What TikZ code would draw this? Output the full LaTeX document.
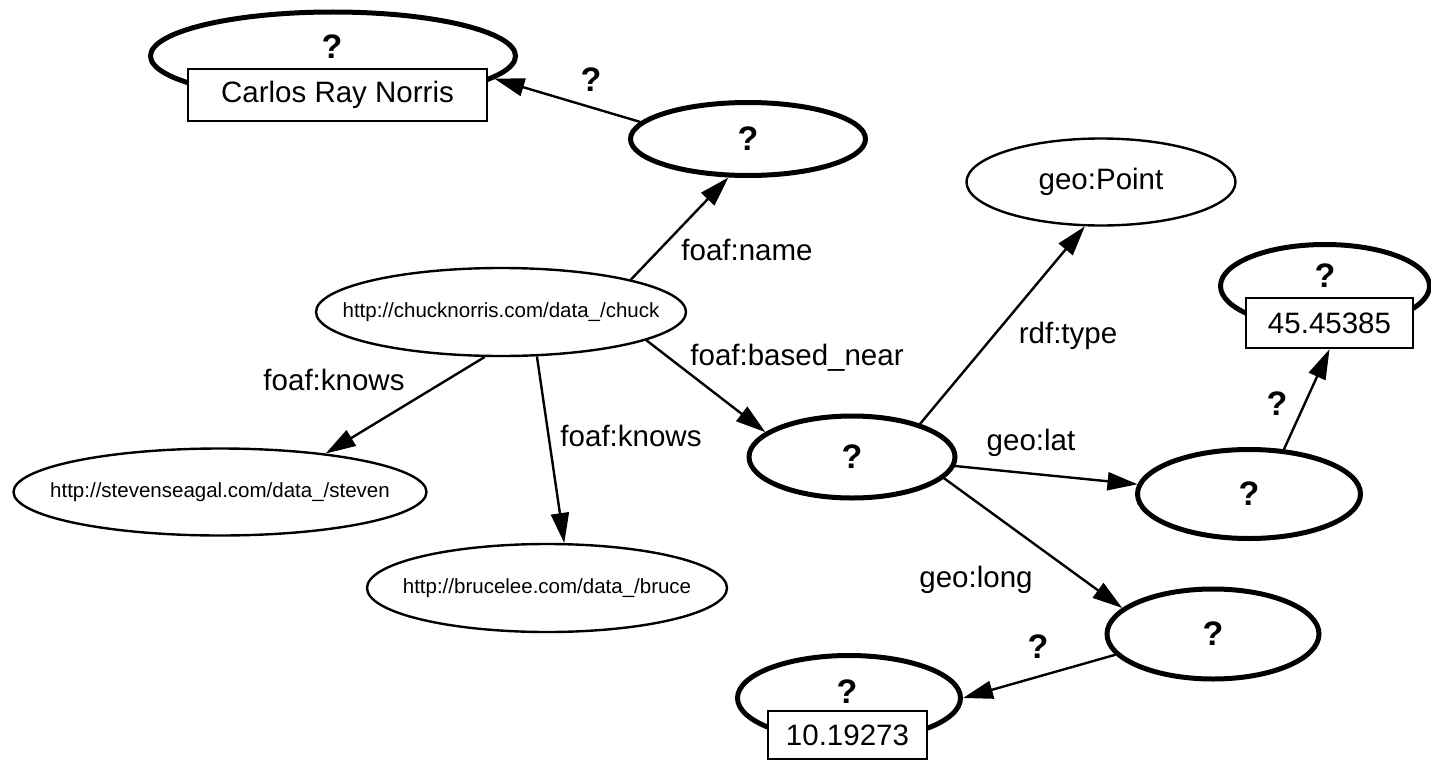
\documentclass[tikz,border=0pt]{standalone}
\usepackage{fontspec}
\setmainfont{Liberation Sans}
\usetikzlibrary{shapes.geometric,arrows.meta}
\begin{document}
\begin{tikzpicture}[x=1pt,y=-1pt,
  thinell/.style={ellipse,draw,line width=2.4pt,inner sep=0pt,fill=white},
  thickell/.style={ellipse,draw,line width=5pt,inner sep=0pt,fill=white},
  litbox/.style={rectangle,draw,line width=2.4pt,fill=white,inner sep=0pt},
  urltext/.style={font=\fontsize{20.5}{22}\selectfont},
  bigtext/.style={font=\fontsize{29.5}{31}\selectfont},
  lbl/.style={font=\fontsize{29.5}{31}\selectfont,anchor=base,inner sep=0pt},
  qlbl/.style={font=\bfseries\fontsize{34}{36}\selectfont,anchor=base,inner sep=0pt},
  qnode/.style={thickell,font=\bfseries\fontsize{34}{36}\selectfont},
  rel/.style={line width=2.4pt,-{Triangle[length=30pt,width=18pt]}}
]
\useasboundingbox (0,0) rectangle (1431,760);

% resource nodes
\node[thinell,urltext,minimum width=370pt,minimum height=88pt] (chuck) at (501,312)
  {\makebox[0pt]{http://chucknorris.com/data\_/chuck}};
\node[thinell,urltext,minimum width=413pt,minimum height=87pt] (steven) at (220,492)
  {\makebox[0pt]{http://stevenseagal.com/data\_/steven}};
\node[thinell,urltext,minimum width=360pt,minimum height=88pt] (bruce) at (547,588)
  {\makebox[0pt]{http://brucelee.com/data\_/bruce}};
\node[thinell,bigtext,minimum width=269pt,minimum height=87pt] (point) at (1101,182)
  {\makebox[0pt]{geo:Point}};

% variable nodes
\node[qnode,minimum width=235pt,minimum height=73pt] (q1) at (748,139) {?};
\node[qnode,minimum width=206pt,minimum height=82pt] (q2) at (852,457) {?};
\node[qnode,minimum width=223pt,minimum height=89pt] (q3) at (1249,494) {?};
\node[qnode,minimum width=212pt,minimum height=90pt] (q4) at (1213,634) {?};

% literal nodes: variable ellipse with the value box in front
\node[thickell,minimum width=365pt,minimum height=88pt] (lit1) at (333,56) {};
\node[litbox,bigtext,minimum width=299pt,minimum height=52pt] (lit1box) at (337.5,95) {Carlos Ray Norris};
\node[qlbl] (lit1q) at (332,59) {?};

\node[thickell,minimum width=209pt,minimum height=83pt] (lit2) at (1325,286) {};
\node[litbox,bigtext,minimum width=167pt,minimum height=50pt] (lit2box) at (1329.5,323) {45.45385};
\node[qlbl] (lit2q) at (1325,287) {?};

\node[thickell,minimum width=223pt,minimum height=85pt] (lit3) at (849,698) {};
\node[litbox,bigtext,minimum width=159pt,minimum height=48pt] (lit3box) at (847.5,735) {10.19273};
\node[qlbl] (lit3q) at (847,703) {?};

% connectors
\draw[rel] (q1.171.7) -- (lit1.-8.6);
\draw[rel] (chuck.14) -- (q1.243);
\draw[rel] (chuck.-11.8) -- (q2.164.5);
\draw[rel] (chuck.250.4) -- (steven.20);
\draw[rel] (chuck.-51.2) -- (bruce.69.4);
\draw[rel] (q2.26.2) -- (point.250.8);
\draw[rel] (q2.-5.4) -- (q3.175.5);
\draw[rel] (q2.-13.6) -- (q4.164.8);
\draw[rel] (q3.52.5) -- (lit2box.south);
\draw[rel] (q4.192.6) -- (lit3.0);

% connector labels
\node[qlbl] (l1) at (591,92) {?};
\node[lbl] (l2) at (747,260) {foaf:name};
\node[lbl] (l3) at (797,365) {foaf:based\_near};
\node[lbl] (l4) at (334,390) {foaf:knows};
\node[lbl] (l5) at (631,446) {foaf:knows};
\node[lbl] (l6) at (1068,343) {rdf:type};
\node[lbl] (l7) at (1031,450) {geo:lat};
\node[qlbl] (l8) at (1277,415) {?};
\node[lbl] (l9) at (976,587) {geo:long};
\node[qlbl] (l10) at (1038,658) {?};
\end{tikzpicture}
\end{document}
